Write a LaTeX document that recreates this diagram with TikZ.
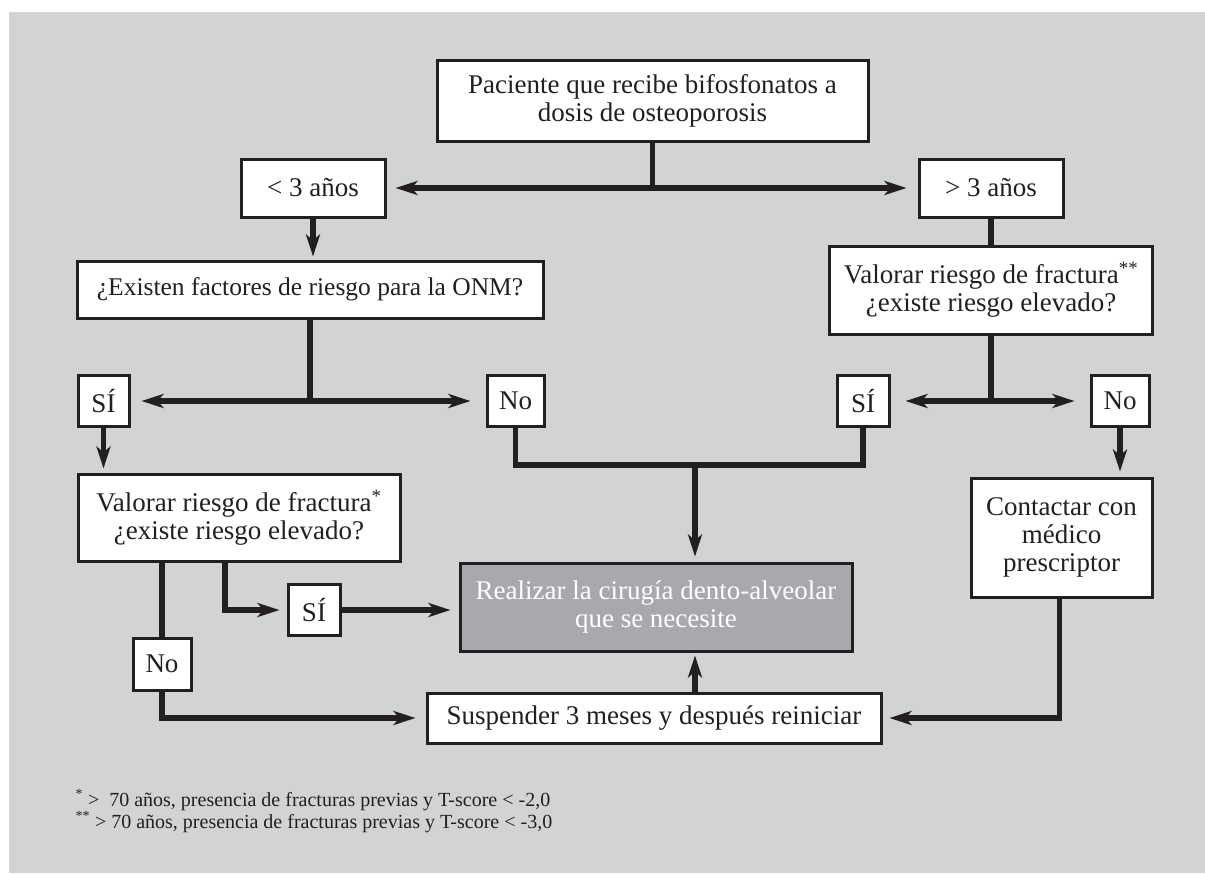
\documentclass[tikz,border=0pt]{standalone}
\usepackage{fontspec}
\setmainfont{Liberation Serif}
\usepackage{xcolor}
\usetikzlibrary{arrows.meta}
\definecolor{panel}{HTML}{D1D3D4}
\definecolor{ink}{HTML}{231F20}
\definecolor{shade}{HTML}{A7A9AC}

\begin{document}
\begin{tikzpicture}[x=1pt,y=-1pt,
    box/.style={draw=ink,line width=3pt,fill=white,text=ink,align=center,inner sep=0pt,font=\fontsize{27}{28}\selectfont},
    line/.style={draw=ink,line width=5.5pt},
    arr/.style={line,-{Stealth[length=22pt,width=14pt,inset=6pt]},shorten >=8pt}]
    \useasboundingbox (0,0) rectangle (1205,873);
    \fill[panel] (9,12) rectangle (1205,873);
    \node[box,minimum width=431pt,minimum height=81pt] (top) at (652.5,100.5) {Paciente que recibe bifosfonatos a\\dosis de osteoporosis};
    \node[box,minimum width=144pt,minimum height=58pt] (lt3) at (313,188) {< 3 años};
    \node[box,minimum width=144pt,minimum height=58pt] (gt3) at (991,188) {> 3 años};
    \node[box,minimum width=466pt,minimum height=57pt,font=\fontsize{25.5}{28}\selectfont] (existen) at (310,289.5) {¿Existen factores de riesgo para la ONM?};
    \node[box,minimum width=323pt,minimum height=88pt] (valorar2) at (991,290) {Valorar riesgo de fractura\textsuperscript{**}\\¿existe riesgo elevado?};
    \node[box,minimum width=51pt,minimum height=51pt] (si1) at (103.5,401) {SÍ};
    \node[box,minimum width=57pt,minimum height=51pt] (no1) at (515.5,401) {No};
    \node[box,minimum width=52pt,minimum height=51pt] (si2) at (863,401) {SÍ};
    \node[box,minimum width=58pt,minimum height=51pt] (no2) at (1120,401) {No};
    \node[box,minimum width=322pt,minimum height=87pt] (valorar1) at (239,517.5) {Valorar riesgo de fractura\textsuperscript{*}\\¿existe riesgo elevado?};
    \node[box,minimum width=181pt,minimum height=119pt] (contactar) at (1061.5,537.5) {Contactar con\\médico\\prescriptor};
    \node[box,fill=shade,text=white,minimum width=392pt,minimum height=88pt] (realizar) at (656,607) {Realizar la cirugía dento-alveolar\\que se necesite};
    \node[box,minimum width=52pt,minimum height=51pt] (si3) at (314,610) {SÍ};
    \node[box,minimum width=58pt,minimum height=52pt] (no3) at (162,664) {No};
    \node[box,minimum width=454pt,minimum height=50pt] (suspender) at (654,718) {Suspender 3 meses y después reiniciar};
    \node[anchor=west,align=left,text=ink,font=\fontsize{20}{22}\selectfont] (notas) at (72,811) {\textsuperscript{*} >~~70 años, presencia de fracturas previas y T-score < -2,0\\\textsuperscript{**} > 70 años, presencia de fracturas previas y T-score < -3,0};
    \coordinate (j4) at (695,465);
    \draw[line] (top.south) -- (top.south |- lt3.east) coordinate (j1);
    \draw[arr,shorten >=9pt] (j1) -- (lt3.east);
    \draw[arr,shorten >=11pt] (j1) -- (gt3.west);
    \draw[arr,shorten >=3pt] (lt3.south) -- (lt3.south |- existen.north);
    \draw[line] (gt3.south) -- (valorar2.north);
    \draw[line] (existen.south) -- (existen.south |- si1.east) coordinate (j2);
    \draw[arr,shorten >=11pt] (j2) -- (si1.east);
    \draw[arr,shorten >=15pt] (j2) -- (no1.west);
    \draw[line] (valorar2.south) -- (valorar2.south |- si2.east) coordinate (j3);
    \draw[arr,shorten >=15pt] (j3) -- (si2.east);
    \draw[arr,shorten >=15pt] (j3) -- (no2.west);
    \draw[line] (no1.south) |- (j4) -| (si2.south);
    \draw[arr,shorten >=5pt] (j4) -- (j4 |- realizar.north);
    \draw[arr,shorten >=5pt] (no2.south) -- (no2.south |- contactar.north);
    \draw[arr,shorten >=4pt] (si1.south) -- (si1.south |- valorar1.north);
    \draw[arr,shorten >=7pt] ([xshift=-14pt]valorar1.south) |- (si3.west);
    \draw[arr,shorten >=8pt] (si3.east) -- (realizar.west |- si3.east);
    \draw[line] (no3.north |- valorar1.south) -- (no3.north);
    \draw[arr,shorten >=10pt] (no3.south) |- (suspender.west);
    \draw[arr,shorten >=3pt] (j4 |- suspender.north) -- (j4 |- realizar.south);
    \draw[arr,shorten >=7pt] ([xshift=-2pt]contactar.south) |- (suspender.east);
\end{tikzpicture}
\end{document}
